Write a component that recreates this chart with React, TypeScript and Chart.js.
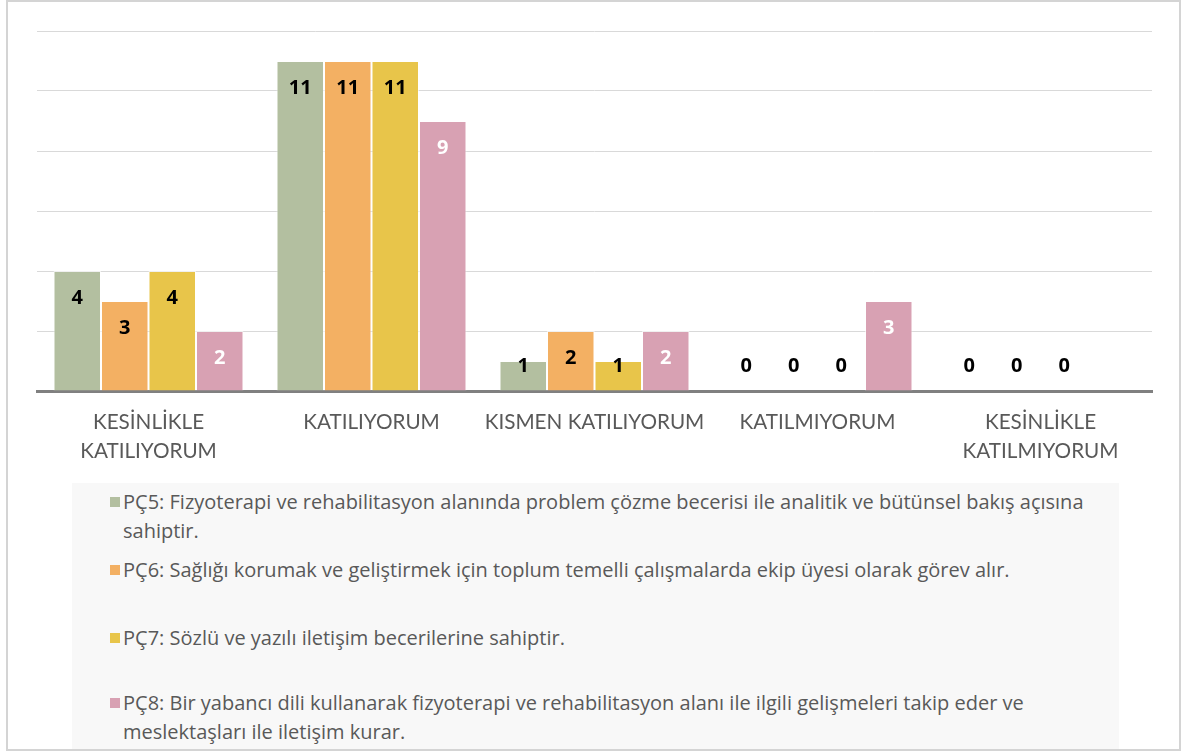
import React, { useEffect, useRef } from 'react';
import { Chart, registerables } from 'chart.js';

Chart.register(...registerables);

const categories: (string | string[])[] = [
  ['KESİNLİKLE', 'KATILIYORUM'],
  'KATILIYORUM',
  'KISMEN KATILIYORUM',
  'KATILMIYORUM',
  ['KESİNLİKLE', 'KATILMIYORUM'],
];
const seriesNames = ['PÇ5', 'PÇ6', 'PÇ7', 'PÇ8'];
const pc5 = [4, 11, 1, 0, 0];
const pc6 = [3, 11, 2, 0, 0];
const pc7 = [4, 11, 1, 0, 0];
const pc8 = [2, 9, 2, 3, 0];
const yMin = 0;
const yMax = 12;
const yStep = 2;
const legendLines: string[][] = [
  ['PÇ5: Fizyoterapi ve rehabilitasyon alanında problem çözme becerisi ile analitik ve bütünsel bakış açısına', 'sahiptir.'],
  ['PÇ6: Sağlığı korumak ve geliştirmek için toplum temelli çalışmalarda ekip üyesi olarak görev alır.'],
  ['PÇ7: Sözlü ve yazılı iletişim becerilerine sahiptir.'],
  ['PÇ8: Bir yabancı dili kullanarak fizyoterapi ve rehabilitasyon alanı ile ilgili gelişmeleri takip eder ve', 'meslektaşları ile iletişim kurar.'],
];

const seriesValues = [pc5, pc6, pc7, pc8];
const fillColors = ['#b3bfa0', '#f3b063', '#e8c54a', '#d8a1b3'];
const swatchColors = ['#b3bfa0', '#f3b063', '#e8c54a', '#d8a1b3'];
const labelColors = ['#000000', '#000000', '#000000', '#ffffff'];
const legendTops = [487, 555, 623, 688];

const labelPlugin = {
  id: 'barValueLabels',
  afterDatasetsDraw(chart: any) {
    const ctx = chart.ctx;
    const base = chart.scales.y.getPixelForValue(0);
    ctx.save();
    ctx.font = 'bold 20px "Open Sans"';
    ctx.textAlign = 'center';
    ctx.textBaseline = 'middle';
    chart.data.datasets.forEach((ds: any, di: number) => {
      const meta = chart.getDatasetMeta(di);
      meta.data.forEach((bar: any, i: number) => {
        const v = ds.data[i];
        const y = Math.min(bar.y + 27, base - 25);
        ctx.fillStyle = labelColors[di];
        ctx.fillText(String(v), bar.x, y);
      });
    });
    ctx.restore();
  },
};

export default function App() {
  const canvasRef = useRef<HTMLCanvasElement | null>(null);

  useEffect(() => {
    document.body.style.margin = '0';
    const canvas = canvasRef.current;
    if (!canvas) return;
    const chart = new Chart(canvas, {
      type: 'bar',
      data: {
        labels: categories as any,
        datasets: seriesNames.map((name, i) => ({
          label: name,
          data: seriesValues[i],
          backgroundColor: fillColors[i],
          borderColor: 'rgba(255,255,255,0.6)',
          borderWidth: 1,
          borderSkipped: 'start',
          categoryPercentage: 0.852,
          barPercentage: 1.0,
        })),
      },
      options: {
        responsive: false,
        animation: false,
        devicePixelRatio: 1,
        layout: { padding: { left: 37, right: 30, top: 31, bottom: 0 } },
        plugins: {
          legend: { display: false },
          tooltip: { enabled: false },
          title: { display: false },
        },
        scales: {
          x: {
            grid: { display: true, color: 'rgba(0,0,0,0)', drawTicks: false },
            border: { display: true, color: '#808080', width: 3 },
            ticks: {
              color: '#595959',
              font: { family: 'Lato', size: 20.7, lineHeight: 1.4 },
              padding: 17,
              maxRotation: 0,
              autoSkip: false,
            },
            afterFit: (scale: any) => {
              scale.height = 84;
            },
          },
          y: {
            min: yMin,
            max: yMax,
            ticks: { display: false, stepSize: yStep },
            grid: { color: '#d9d9d9', lineWidth: 1, drawTicks: false },
            border: { display: false },
            afterFit: (scale: any) => {
              scale.width = 0;
            },
          },
        },
      },
      plugins: [labelPlugin],
    });
    return () => chart.destroy();
  }, []);

  return (
    <div style={{ position: 'absolute', left: 0, top: 0, width: 1182, height: 751, background: '#ffffff', overflow: 'hidden', fontFamily: '"Open Sans"' }}>
      <canvas ref={canvasRef} width={1182} height={475} style={{ position: 'absolute', left: 0, top: 0, width: 1182, height: 475 }} />
      <div style={{ position: 'absolute', left: 72, top: 483, width: 1047, height: 268, background: '#f8f8f8' }} />
      {legendLines.map((lines, i) => (
        <div key={i} style={{ position: 'absolute', left: 110, top: legendTops[i], width: 1040 }}>
          <div style={{ position: 'absolute', left: 0, top: 10, width: 10, height: 10, background: swatchColors[i] }} />
          <div style={{ position: 'absolute', left: 13, top: 0, width: 1000, color: '#595959', fontSize: 20, lineHeight: '29px', whiteSpace: 'nowrap' }}>
            {lines.map((ln, j) => (
              <div key={j}>{ln}</div>
            ))}
          </div>
        </div>
      ))}
      <div style={{ position: 'absolute', left: 6, top: 0, width: 1175, height: 751, border: '2px solid #d4d4d4', boxSizing: 'border-box', pointerEvents: 'none' }} />
    </div>
  );
}
